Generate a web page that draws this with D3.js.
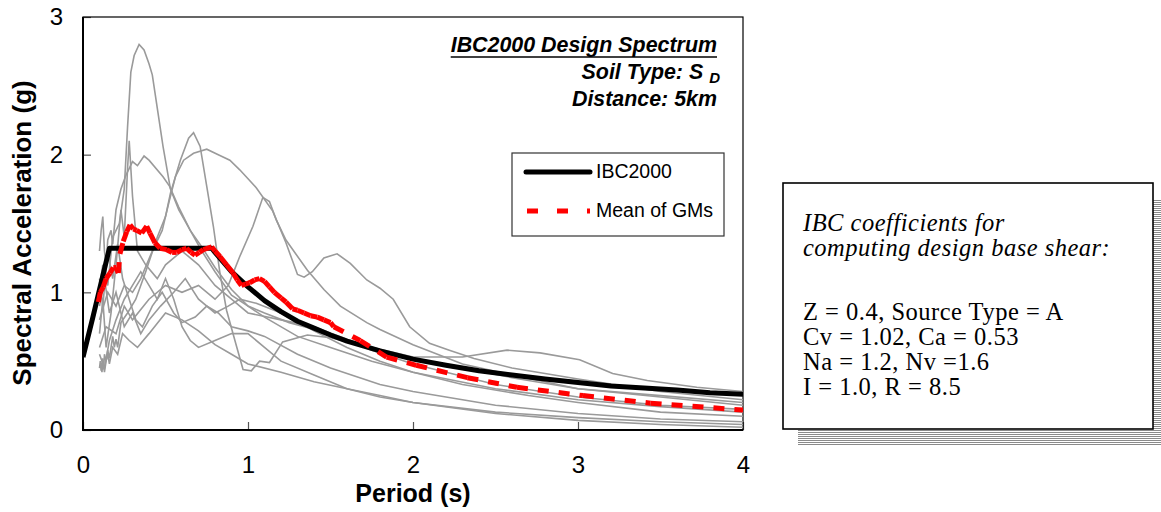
<!DOCTYPE html>
<html>
<head>
<meta charset="utf-8">
<script src="https://cdn.jsdelivr.net/npm/d3@7"></script>
<style>
  body { margin: 0; background: #fff; }
  svg { display: block; font-family: "Liberation Sans", Arial, sans-serif; }
</style>
</head>
<body>
<svg id="chart" width="1161" height="512"></svg>
<script>
// IBC2000 design spectrum [period s, Sa g]
const ibcSpectrum = [
  [0, 0.53], [0.06, 0.82], [0.16, 1.32], [0.78, 1.32], [0.8, 1.29], [0.9, 1.15],
  [1.0, 1.04], [1.1, 0.94], [1.2, 0.86], [1.3, 0.79], [1.4, 0.74], [1.5, 0.69],
  [1.6, 0.645], [1.8, 0.575], [2.0, 0.515], [2.2, 0.47], [2.4, 0.43], [2.6, 0.4],
  [2.8, 0.37], [3.0, 0.345], [3.2, 0.32], [3.4, 0.305], [3.6, 0.29], [3.8, 0.27], [4.0, 0.26]
];

// mean of ground motions
const meanGMs = [
  [0.093, 0.93], [0.105, 1.0], [0.123, 1.04], [0.14, 1.1], [0.164, 1.14], [0.184, 1.18],
  [0.2, 1.18], [0.214, 1.14], [0.224, 1.28], [0.244, 1.37], [0.265, 1.44], [0.285, 1.49],
  [0.305, 1.46], [0.325, 1.45], [0.356, 1.43], [0.386, 1.48], [0.406, 1.43], [0.436, 1.36],
  [0.467, 1.32], [0.507, 1.31], [0.54, 1.29], [0.568, 1.29], [0.6, 1.31], [0.628, 1.32],
  [0.655, 1.29], [0.679, 1.27], [0.705, 1.29], [0.729, 1.31], [0.78, 1.33], [0.8, 1.3],
  [0.83, 1.26], [0.87, 1.2], [0.91, 1.14], [0.935, 1.09], [0.96, 1.05], [0.985, 1.06],
  [1.01, 1.07], [1.04, 1.09], [1.07, 1.1], [1.1, 1.08], [1.13, 1.04], [1.16, 1.0],
  [1.2, 0.96], [1.23, 0.93], [1.27, 0.88], [1.3, 0.87], [1.34, 0.85], [1.38, 0.83],
  [1.42, 0.82], [1.46, 0.8], [1.5, 0.78], [1.52, 0.75], [1.68, 0.65], [1.84, 0.53],
  [2.02, 0.47], [2.33, 0.38], [2.63, 0.31], [3.03, 0.25], [3.44, 0.195], [4.0, 0.145]
];

// individual ground motion spectra
const gm1 = [[0.09, 0.95], [0.12, 1.2], [0.15, 1.05], [0.18, 1.4], [0.22, 1.5], [0.25, 1.75], [0.27, 2.2], [0.29, 2.6], [0.31, 2.72], [0.34, 2.8], [0.37, 2.76], [0.4, 2.66], [0.42, 2.58], [0.455, 2.3], [0.485, 2.06], [0.53, 1.75], [0.58, 1.6], [0.65, 1.45], [0.72, 1.3], [0.8, 1.15], [0.9, 0.98], [1.0, 0.9], [1.1, 0.82], [1.3, 0.68], [1.5, 0.6], [1.75, 0.5], [2.0, 0.42], [2.5, 0.3], [3.0, 0.22], [3.5, 0.17], [4.0, 0.13]];
const gm2 = [[0.11, 0.46], [0.115, 0.42], [0.12, 0.5], [0.125, 0.44], [0.13, 0.55], [0.14, 0.5], [0.15, 0.58], [0.16, 0.52], [0.18, 0.68], [0.19, 0.6], [0.2, 0.66], [0.21, 0.6], [0.23, 0.78], [0.27, 0.85], [0.32, 0.95], [0.38, 1.15], [0.45, 1.4], [0.5, 1.55], [0.53, 1.72], [0.59, 1.96], [0.64, 2.12], [0.67, 2.16], [0.71, 2.06], [0.75, 1.77], [0.79, 1.48], [0.83, 1.14], [0.87, 0.87], [0.93, 0.61], [0.97, 0.44], [1.02, 0.43], [1.07, 0.5], [1.13, 0.49], [1.21, 0.64], [1.36, 0.69], [1.5, 0.67], [1.75, 0.6], [2.0, 0.53], [2.3, 0.53], [2.57, 0.58], [2.77, 0.56], [3.01, 0.51], [3.21, 0.41], [3.42, 0.36], [3.72, 0.31], [4.0, 0.28]];
const gm3 = [[0.1, 0.8], [0.15, 1.0], [0.2, 0.9], [0.25, 1.05], [0.3, 1.0], [0.35, 1.1], [0.42, 1.3], [0.48, 1.45], [0.52, 1.65], [0.56, 1.84], [0.61, 1.96], [0.67, 2.01], [0.75, 2.04], [0.82, 2.0], [0.89, 1.96], [0.95, 1.89], [1.05, 1.76], [1.15, 1.59], [1.23, 1.36], [1.3, 1.13], [1.34, 1.11], [1.39, 1.15], [1.46, 1.25], [1.54, 1.28], [1.62, 1.21], [1.72, 1.09], [1.8, 1.03], [1.88, 0.95], [1.98, 0.75], [2.1, 0.63], [2.22, 0.58], [2.37, 0.52], [2.6, 0.45], [3.0, 0.37], [3.5, 0.28], [4.0, 0.22]];
const gm4 = [[0.1, 0.6], [0.14, 0.75], [0.2, 0.7], [0.25, 0.9], [0.3, 0.8], [0.4, 0.95], [0.5, 1.05], [0.6, 1.0], [0.7, 1.05], [0.8, 0.95], [0.88, 1.05], [0.95, 1.26], [1.03, 1.48], [1.09, 1.69], [1.13, 1.66], [1.17, 1.53], [1.23, 1.38], [1.36, 1.16], [1.46, 1.02], [1.56, 0.9], [1.72, 0.78], [1.8, 0.73], [2.0, 0.62], [2.3, 0.48], [2.6, 0.4], [3.0, 0.3], [3.5, 0.24], [4.0, 0.18]];
const gm5 = [[0.1, 1.3], [0.11, 1.45], [0.12, 1.55], [0.13, 1.3], [0.14, 1.2], [0.15, 1.38], [0.17, 1.45], [0.18, 1.35], [0.2, 1.6], [0.23, 1.75], [0.26, 1.85], [0.3, 1.95], [0.33, 1.92], [0.37, 1.99], [0.4, 1.96], [0.485, 1.84], [0.525, 1.77], [0.58, 1.62], [0.65, 1.45], [0.72, 1.33], [0.8, 1.18], [0.9, 1.02], [1.0, 0.9], [1.1, 0.85], [1.25, 0.78], [1.5, 0.7], [1.75, 0.58], [2.0, 0.48], [2.5, 0.33], [3.0, 0.24], [3.5, 0.18], [4.0, 0.15]];
const gm6 = [[0.1, 0.55], [0.13, 0.45], [0.16, 0.65], [0.2, 0.8], [0.25, 0.95], [0.3, 1.05], [0.35, 1.15], [0.4, 1.05], [0.45, 0.95], [0.5, 1.1], [0.55, 0.95], [0.6, 0.75], [0.65, 0.65], [0.7, 0.6], [0.8, 0.65], [0.9, 0.7], [1.0, 0.7], [1.1, 0.6], [1.2, 0.5], [1.4, 0.4], [1.6, 0.3], [1.8, 0.25], [2.0, 0.2], [2.5, 0.13], [3.0, 0.09], [3.5, 0.06], [4.0, 0.04]];
const gm7 = [[0.1, 0.9], [0.13, 1.1], [0.16, 0.85], [0.2, 1.0], [0.25, 0.75], [0.3, 0.85], [0.35, 0.7], [0.4, 0.8], [0.47, 0.9], [0.55, 1.0], [0.62, 1.1], [0.7, 0.95], [0.8, 0.85], [0.88, 0.9], [0.95, 0.95], [1.05, 0.92], [1.2, 0.85], [1.4, 0.72], [1.6, 0.6], [1.8, 0.5], [2.0, 0.42], [2.3, 0.33], [2.7, 0.25], [3.0, 0.2], [3.5, 0.13], [4.0, 0.1]];
const gm8 = [[0.1, 1.1], [0.12, 0.9], [0.15, 1.3], [0.18, 1.1], [0.21, 1.35], [0.24, 1.1], [0.28, 0.95], [0.32, 0.8], [0.36, 0.75], [0.42, 0.9], [0.48, 1.0], [0.55, 0.85], [0.6, 0.78], [0.68, 0.82], [0.75, 0.9], [0.82, 0.85], [0.9, 0.75], [1.0, 0.72], [1.1, 0.68], [1.3, 0.55], [1.5, 0.45], [1.8, 0.33], [2.0, 0.28], [2.5, 0.18], [3.0, 0.12], [3.5, 0.08], [4.0, 0.06]];
const gm9 = [[0.1, 0.7], [0.12, 0.95], [0.14, 0.6], [0.17, 0.85], [0.2, 1.2], [0.23, 1.6], [0.25, 1.4], [0.27, 1.9], [0.28, 2.1], [0.3, 1.7], [0.33, 1.3], [0.38, 1.2], [0.45, 1.1], [0.5, 1.2], [0.6, 1.3], [0.7, 1.2], [0.8, 1.05], [0.9, 0.95], [1.0, 0.85], [1.2, 0.8], [1.4, 0.75], [1.6, 0.66], [1.8, 0.58], [2.0, 0.52], [2.3, 0.45], [2.6, 0.38], [3.0, 0.3], [3.5, 0.25], [4.0, 0.2]];
const gm10 = [[0.1, 0.45], [0.105, 0.5], [0.11, 0.43], [0.12, 0.52], [0.13, 0.42], [0.14, 0.5], [0.15, 0.55], [0.16, 0.48], [0.18, 0.6], [0.21, 0.55], [0.24, 0.7], [0.28, 0.65], [0.33, 0.6], [0.4, 0.7], [0.5, 0.85], [0.6, 0.8], [0.7, 0.72], [0.8, 0.62], [0.9, 0.55], [1.0, 0.48], [1.2, 0.42], [1.4, 0.35], [1.6, 0.3], [1.8, 0.24], [2.0, 0.2], [2.5, 0.12], [3.0, 0.07], [3.5, 0.04], [4.0, 0.02]];
const groundMotions = [gm1, gm2, gm3, gm4, gm5, gm6, gm7, gm8, gm9, gm10];

const xTicks = [0, 1, 2, 3, 4];
const yTicks = [0, 1, 2, 3];
const titleLines = ['IBC2000 Design Spectrum', 'Soil Type: S', 'Distance: 5km'];
const legendLabels = ['IBC2000', 'Mean of GMs'];
const noteLines = ['IBC coefficients for', 'computing design base shear:',
  'Z = 0.4, Source Type = A', 'Cv = 1.02, Ca = 0.53', 'Na = 1.2, Nv =1.6', 'I = 1.0, R = 8.5'];

function drawChart() {
  const left = 83, right = 743, top = 17, bottom = 430;
  const svg = d3.select('svg#chart');

  const x = d3.scaleLinear().domain([0, 4]).range([left, right]);
  const y = d3.scaleLinear().domain([0, 3]).range([bottom, top]);
  const line = d3.line().x((d) => x(d[0])).y((d) => y(d[1]));

  svg.append('defs').append('clipPath').attr('id', 'plotClip')
    .append('rect').attr('x', left).attr('y', top)
    .attr('width', right - left).attr('height', bottom - top);

  // axes
  const xAxis = svg.append('g').attr('transform', `translate(0,${bottom})`)
    .call(d3.axisBottom(x).tickValues(xTicks).tickFormat(d3.format('d'))
      .tickSize(-8).tickPadding(26));
  const yAxis = svg.append('g').attr('transform', `translate(${left},0)`)
    .call(d3.axisLeft(y).tickValues(yTicks).tickFormat(d3.format('d'))
      .tickSize(-8).tickPadding(20));
  [xAxis, yAxis].forEach((g) => {
    g.select('.domain').remove();
    g.selectAll('.tick line').attr('stroke', '#555').attr('stroke-width', 1.2);
    g.selectAll('.tick text').attr('fill', '#000')
      .style('font-size', '24px').style('font-family', '"Liberation Sans", Arial, sans-serif');
  });

  // frame
  svg.append('rect').attr('x', left).attr('y', top)
    .attr('width', right - left).attr('height', bottom - top)
    .attr('fill', 'none').attr('stroke', '#000').attr('stroke-width', 1.2);
  svg.append('path').attr('d', `M${left},${top}V${bottom}H${right}`)
    .attr('fill', 'none').attr('stroke', '#000').attr('stroke-width', 2);

  const plot = svg.append('g').attr('clip-path', 'url(#plotClip)');

  plot.selectAll('path.gm').data(groundMotions).enter()
    .append('path').attr('class', 'gm')
    .attr('d', line)
    .attr('fill', 'none').attr('stroke', '#9a9a9a').attr('stroke-width', 1.6);

  plot.append('path').attr('d', line(ibcSpectrum))
    .attr('fill', 'none').attr('stroke', '#000').attr('stroke-width', 5)
    .attr('stroke-linejoin', 'round');

  // dash pattern restarts on each segment, like the spreadsheet did
  const segs = d3.pairs(meanGMs);
  plot.selectAll('line.mean').data(segs).enter()
    .append('line').attr('class', 'mean')
    .attr('x1', (d) => x(d[0][0])).attr('y1', (d) => y(d[0][1]))
    .attr('x2', (d) => x(d[1][0])).attr('y2', (d) => y(d[1][1]))
    .attr('stroke', '#ff0000').attr('stroke-width', 5)
    .attr('stroke-dasharray', '11,10');

  // axis titles
  svg.append('text').attr('x', 413).attr('y', 502).attr('text-anchor', 'middle')
    .style('font-size', '25px').style('font-weight', 'bold').text('Period (s)');
  svg.append('text').attr('transform', 'translate(31,233) rotate(-90)')
    .attr('text-anchor', 'middle')
    .style('font-size', '26px').style('font-weight', 'bold').text('Spectral Acceleration (g)');

  // title block
  const tg = svg.append('g').style('font-size', '21.4px')
    .style('font-weight', 'bold').style('font-style', 'italic');
  const t0 = tg.append('text').attr('x', 717).attr('y', 52).attr('text-anchor', 'end').text(titleLines[0]);
  const w0 = t0.node().getComputedTextLength();
  tg.append('line').attr('x1', 717 - w0).attr('x2', 717).attr('y1', 57).attr('y2', 57)
    .attr('stroke', '#000').attr('stroke-width', 1.6);
  const t1 = tg.append('text').attr('x', 720).attr('y', 79).attr('text-anchor', 'end');
  t1.append('tspan').text(titleLines[1] + ' ');
  t1.append('tspan').attr('dy', 4).style('font-size', '15px').text('D');
  tg.append('text').attr('x', 717).attr('y', 106).attr('text-anchor', 'end').text(titleLines[2]);

  // legend
  const lg = svg.append('g');
  lg.append('rect').attr('x', 512).attr('y', 153).attr('width', 212).attr('height', 83)
    .attr('fill', '#fff').attr('stroke', '#333').attr('stroke-width', 1.2);
  lg.append('line').attr('x1', 526).attr('x2', 590).attr('y1', 172).attr('y2', 172)
    .attr('stroke', '#000').attr('stroke-width', 5).attr('stroke-linecap', 'round');
  lg.append('line').attr('x1', 527).attr('x2', 590).attr('y1', 211).attr('y2', 211)
    .attr('stroke', '#ff0000').attr('stroke-width', 5).attr('stroke-dasharray', '11,19');
  lg.selectAll('text').data(legendLabels).enter().append('text')
    .attr('x', 596).attr('y', (d, i) => 178 + i * 39)
    .style('font-size', '19.5px').text((d) => d);

  // coefficient box with hatched shadow
  const pat = svg.select('defs').append('pattern').attr('id', 'hatch')
    .attr('patternUnits', 'userSpaceOnUse').attr('width', 4).attr('height', 2);
  pat.append('rect').attr('width', 4).attr('height', 1).attr('fill', '#8a8a8a');
  pat.append('rect').attr('y', 1).attr('width', 4).attr('height', 1).attr('fill', '#fff');
  svg.append('rect').attr('x', 798).attr('y', 199).attr('width', 372).attr('height', 246)
    .attr('fill', 'url(#hatch)');
  svg.append('rect').attr('x', 783).attr('y', 183).attr('width', 370).attr('height', 246)
    .attr('fill', '#fff').attr('stroke', '#000').attr('stroke-width', 1.6);
  const noteY = [231, 256, 320, 345, 370, 395];
  svg.selectAll('text.note').data(noteLines).enter().append('text')
    .attr('class', 'note')
    .attr('x', 803).attr('y', (d, i) => noteY[i])
    .style('font-family', '"Liberation Serif", "Times New Roman", serif')
    .style('font-size', '24.5px')
    .style('letter-spacing', '0.5px')
    .style('font-style', (d, i) => (i < 2 ? 'italic' : 'normal'))
    .text((d) => d);
}

window.addEventListener('load', function() {
  drawChart();
});
</script>
</body>
</html>
